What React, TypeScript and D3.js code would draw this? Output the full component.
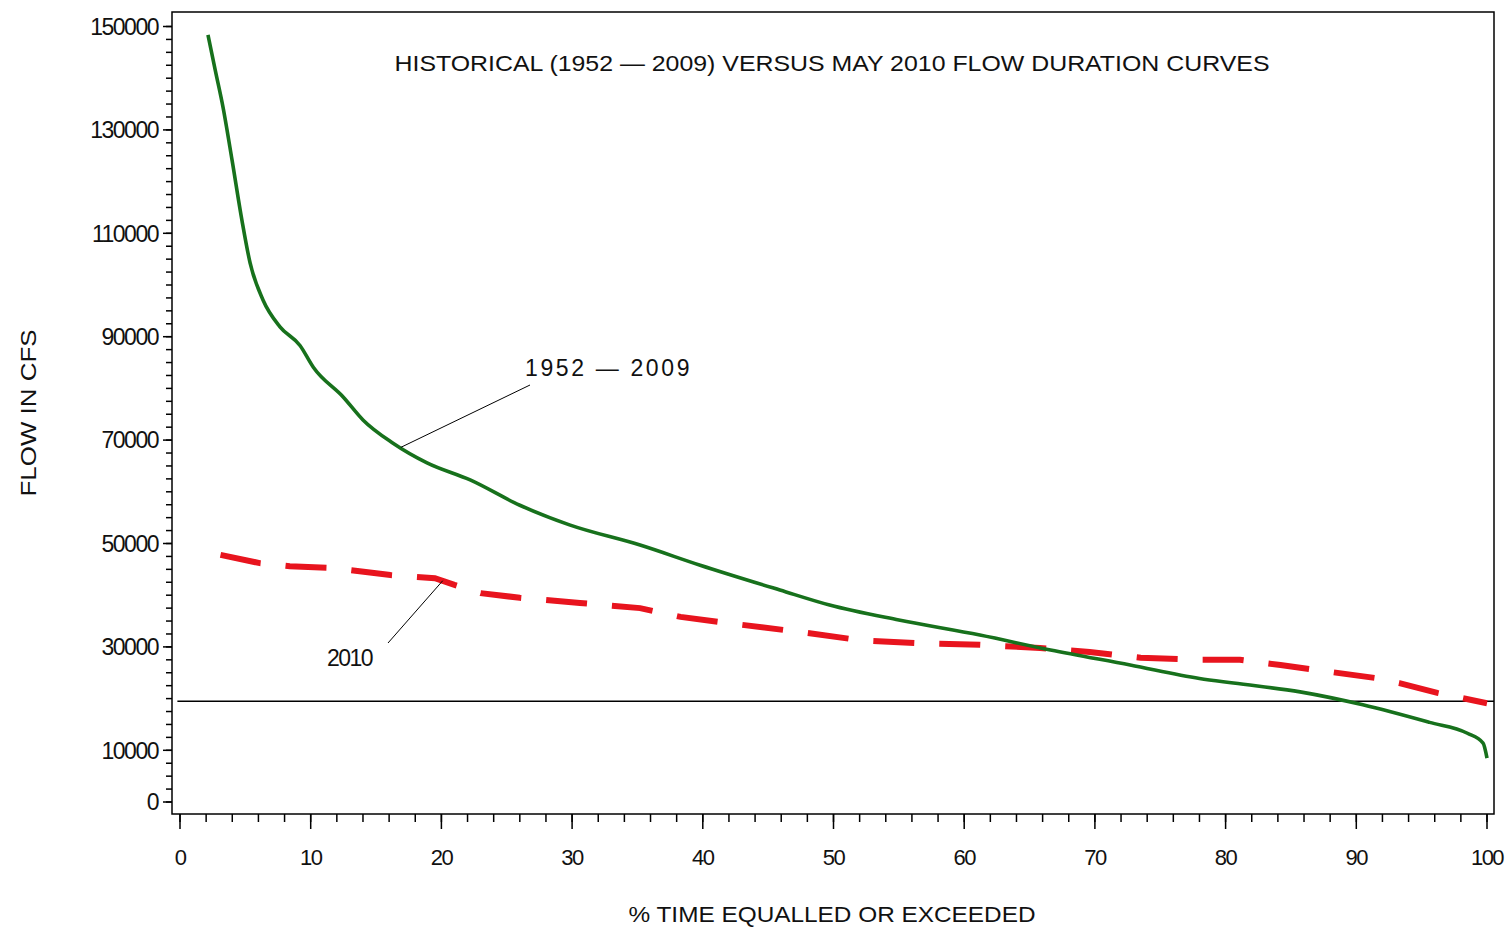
import * as React from 'react';
import { scaleLinear, line, curveMonotoneX, range } from 'd3';

// historical 1952-2009 flow duration curve (percent exceeded, flow cfs)
const histPct = [2.14, 2.7, 3.29, 3.98, 4.74, 5.36, 6.35, 7.65, 9.18, 10.2, 12.5, 14.0, 16.3, 18.9, 22.2, 26, 29.8, 35.2, 39.8, 45.9, 49.7, 55, 61.2, 66.6, 72.7, 78, 80.6, 85.7, 90.5, 95.6, 98.5, 99.7, 100];
const histFlow = [148400, 141500, 134400, 124200, 112500, 104300, 97100, 91900, 88300, 84100, 78300, 73900, 69400, 65600, 62300, 57400, 53600, 49700, 45800, 41000, 38100, 35200, 32300, 29400, 26500, 23900, 23000, 21300, 18800, 15400, 13300, 11400, 8500];

// May 2010 flow duration curve
const mayPct = [3.1, 6.1, 8.4, 11.5, 16.1, 19.5, 21, 23, 26, 30.6, 35.2, 38.3, 41.3, 47.4, 52, 56.6, 61.2, 65.8, 69.6, 73.5, 78, 81.1, 84.2, 88.2, 91.4, 93.3, 96.2, 100];
const mayFlow = [47800, 46200, 45600, 45300, 43900, 43300, 42000, 40400, 39500, 38500, 37500, 35800, 34800, 32900, 31300, 30700, 30400, 29800, 29000, 27900, 27500, 27500, 26500, 25100, 24000, 23000, 21100, 19100];

const refFlow = 19500;
const yTicks = [0, 10000, 30000, 50000, 70000, 90000, 110000, 130000, 150000];
const xTicks = [0, 10, 20, 30, 40, 50, 60, 70, 80, 90, 100];

const W = 1509;
const H = 929;
const frame = { left: 172, top: 12, right: 1494, bottom: 814 };
const FONT = '"Liberation Sans", Arial, sans-serif';

export default function App(): JSX.Element {
  const x = scaleLinear().domain([0, 100]).range([180, 1487]);
  const y = scaleLinear().domain([0, 150000]).range([802, 26.5]);

  const histPath = line<number>()
    .x((_, i) => x(histPct[i]))
    .y((d) => y(d))
    .curve(curveMonotoneX)(histFlow);
  const mayPath = line<number>()
    .x((_, i) => x(mayPct[i]))
    .y((d) => y(d))(mayFlow);

  const yMinor = range(0, 150001, 2500);
  const xMinor = range(0, 101, 2);

  return (
    <div style={{ position: 'absolute', left: 0, top: 0 }}>
      <svg width={W} height={H} style={{ display: 'block', background: '#fff' }}>
        {/* frame */}
        <rect x={frame.left} y={frame.top} width={frame.right - frame.left} height={frame.bottom - frame.top}
          fill="none" stroke="#000" strokeWidth={1.5} />

        {/* y axis ticks */}
        {yMinor.map((v) => (
          <line key={'ym' + v} x1={frame.left - 6} x2={frame.left} y1={y(v)} y2={y(v)} stroke="#000" strokeWidth={1.5} />
        ))}
        {yTicks.map((v) => (
          <g key={'y' + v}>
            <line x1={frame.left - 9} x2={frame.left} y1={y(v)} y2={y(v)} stroke="#000" strokeWidth={1.5} />
            <text x={frame.left - 14} y={y(v)} dy="0.36em" textAnchor="end" fontFamily={FONT} fontSize={23}
              letterSpacing={-1.5} fill="#111">{v}</text>
          </g>
        ))}

        {/* x axis ticks */}
        {xMinor.map((v) => (
          <line key={'xm' + v} x1={x(v)} x2={x(v)} y1={frame.bottom} y2={frame.bottom + 8} stroke="#000" strokeWidth={1.5} />
        ))}
        {xTicks.map((v) => (
          <g key={'x' + v}>
            <line x1={x(v)} x2={x(v)} y1={frame.bottom} y2={frame.bottom + 15} stroke="#000" strokeWidth={1.5} />
            <text x={x(v)} y={865} textAnchor="middle" fontFamily={FONT} fontSize={22} letterSpacing={-1.5} fill="#111">{v}</text>
          </g>
        ))}

        {/* axis titles */}
        <text x={832} y={922} textAnchor="middle" fontFamily={FONT} fontSize={22} fill="#111"
          textLength={407} lengthAdjust="spacingAndGlyphs">% TIME EQUALLED OR EXCEEDED</text>
        <text transform="translate(36,413) rotate(-90)" textAnchor="middle" fontFamily={FONT} fontSize={22} fill="#111"
          textLength={167} lengthAdjust="spacingAndGlyphs">FLOW IN CFS</text>

        {/* title */}
        <text x={832} y={71} textAnchor="middle" fontFamily={FONT} fontSize={22} fill="#111"
          textLength={875} lengthAdjust="spacingAndGlyphs">HISTORICAL  (1952  —  2009)  VERSUS  MAY  2010  FLOW  DURATION  CURVES</text>

        {/* reference line */}
        <line x1={x(-0.2)} x2={frame.right} y1={y(refFlow)} y2={y(refFlow)} stroke="#000" strokeWidth={1.5} />

        {/* curves */}
        <path d={mayPath ?? ''} fill="none" stroke="#e8141e" strokeWidth={6} strokeDasharray="41 25" />
        <path d={histPath ?? ''} fill="none" stroke="#17711c" strokeWidth={3.6} strokeLinejoin="round" />

        {/* annotations */}
        <line x1={x(16.9)} y1={y(68600)} x2={530} y2={385} stroke="#000" strokeWidth={1} />
        <text x={525} y={376} fontFamily={FONT} fontSize={23} letterSpacing={-1.5} fill="#111"
          textLength={163} lengthAdjust="spacing">1952 — 2009</text>
        <line x1={x(20.1)} y1={y(42800)} x2={388} y2={643} stroke="#000" strokeWidth={1} />
        <text x={327} y={666} fontFamily={FONT} fontSize={23} letterSpacing={-1.5} fill="#111">2010</text>
      </svg>
    </div>
  );
}
